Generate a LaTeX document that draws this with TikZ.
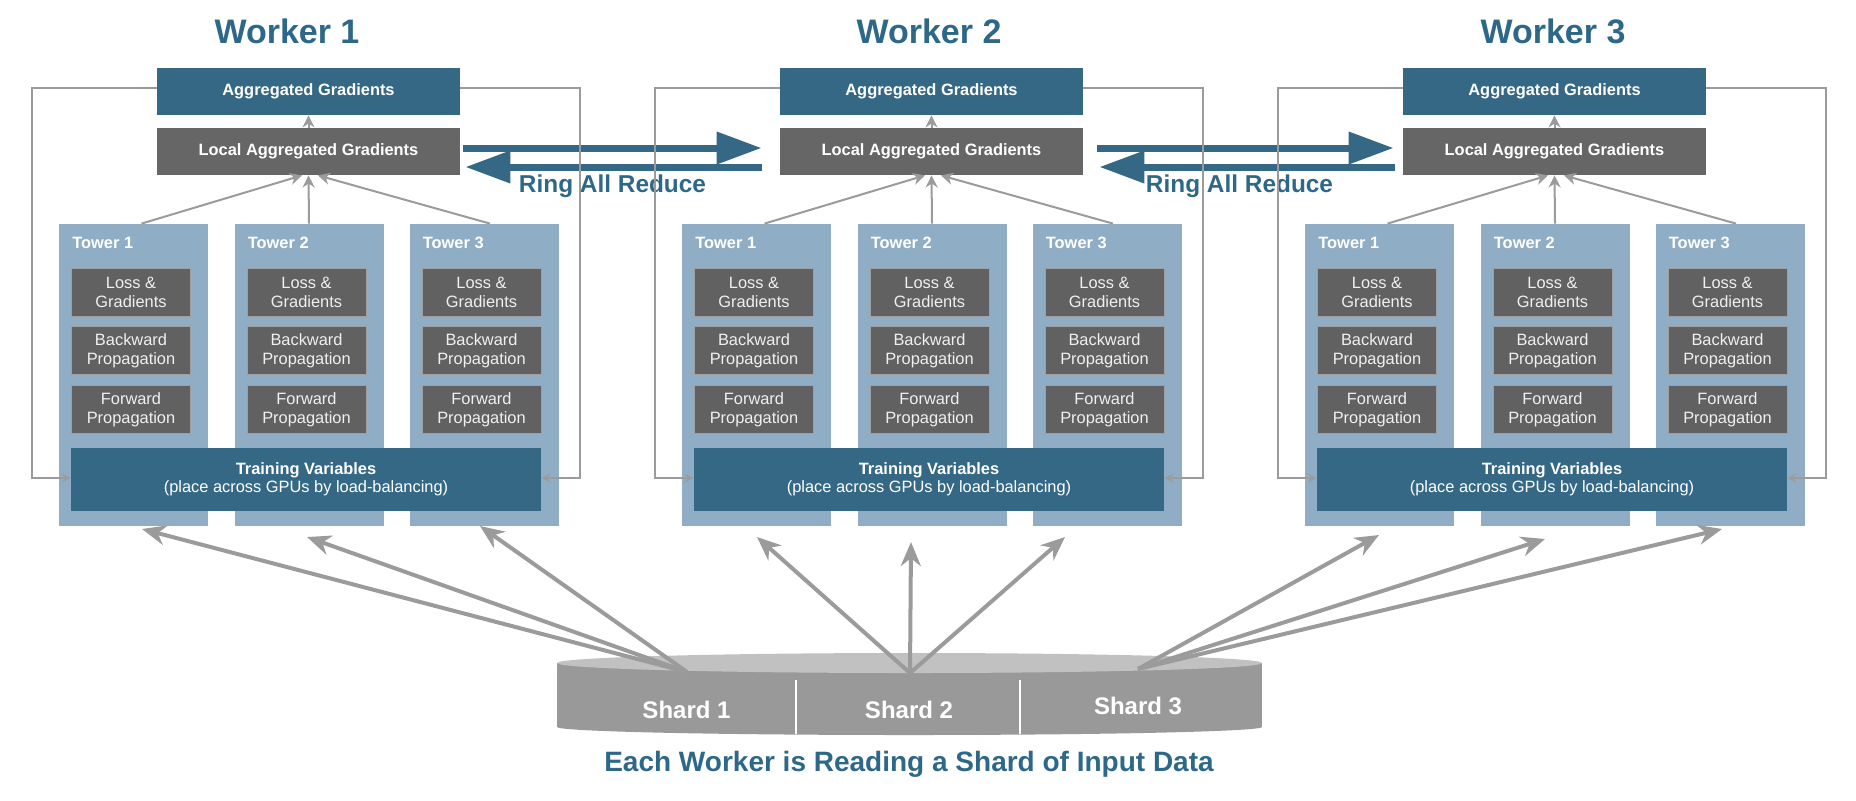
\documentclass[tikz,border=0pt]{standalone}
\usepackage{fontspec}
\setmainfont{Liberation Sans}
\usetikzlibrary{arrows.meta}

\definecolor{tealbox}{HTML}{346885}
\definecolor{titleblue}{HTML}{2E6888}
\definecolor{localgray}{HTML}{666666}
\definecolor{stagegray}{HTML}{616161}
\definecolor{towerblue}{HTML}{8FAEC5}
\definecolor{linegray}{HTML}{9B9B9B}
\definecolor{shardside}{HTML}{999999}
\definecolor{shardtop}{HTML}{C1C1C1}

\begin{document}
\begin{tikzpicture}[x=0.5pt, y=-0.5pt,
    worker/.style ={font=\bfseries\fontsize{17}{20}\selectfont, text=titleblue, anchor=base},
    gradbox/.style ={fill=#1, text=white, font=\bfseries\fontsize{8.2}{9.5}\selectfont,
                     minimum width=151.5pt, minimum height=23.5pt, inner sep=0pt},
    tower/.style ={fill=towerblue, minimum width=74.5pt, minimum height=151pt, inner sep=0pt},
    towerlabel/.style ={font=\bfseries\fontsize{8.2}{9.5}\selectfont, text=white, anchor=base west, inner sep=0pt},
    stage/.style ={fill=stagegray, draw=gray!75, line width=0.4pt, text=white!94!black,
                   font=\fontsize{8.2}{9.5}\selectfont, align=center,
                   minimum width=59.5pt, minimum height=24pt, inner sep=0pt},
    variables/.style ={fill=tealbox, text=white, font=\fontsize{8.2}{9.2}\selectfont, align=center,
                       minimum width=235pt, minimum height=31.5pt, inner sep=0pt},
    gather/.style ={draw=linegray, line width=1pt, -{Stealth[length=6pt,width=6pt]}},
    feedback/.style ={draw=linegray, line width=1pt, -{Stealth[length=5pt,width=5pt,inset=2.5pt]}},
    ring/.style ={draw=tealbox, line width=3.5pt, -{Triangle[length=22.5pt,width=15.5pt]}},
    ringlabel/.style ={font=\bfseries\fontsize{12.2}{14}\selectfont, text=titleblue, anchor=base},
    read/.style ={draw=linegray, line width=2pt, -{Stealth[length=12pt,width=10pt]}},
    shard/.style ={font=\bfseries\fontsize{12}{14}\selectfont, text=white, anchor=base}]

   \useasboundingbox (0,0) rectangle (1856,800);

   % the three workers
   \foreach \w/\tx in {1/287, 2/929, 3/1553} {
     \pgfmathsetmacro\wx{(\w-1)*623}
     \node[worker] (title\w) at (\tx,43) {Worker \w};
     \node[gradbox=tealbox] (agg\w) at (308.5+\wx,91.5) {Aggregated Gradients};
     \node[gradbox=localgray] (loc\w) at (308.5+\wx,151.5) {Local Aggregated Gradients};
     \foreach \t/\cx in {1/133.5, 2/309, 3/484} {
       \node[tower] (tw\w-\t) at (\cx+\wx,375) {};
       \node[towerlabel] (lab\w-\t) at (\cx+\wx-61.5,248) {Tower \t};
       \node[stage] (loss\w-\t) at (\cx+\wx-2.5,292) {Loss \&\\Gradients};
       \node[stage] (back\w-\t) at (\cx+\wx-2.5,350.5) {Backward\\Propagation};
       \node[stage] (fwd\w-\t) at (\cx+\wx-2.5,409.5) {Forward\\Propagation};
     }
     \node[variables] (var\w) at (306+\wx,479.5) {\textbf{Training Variables}\\(place across GPUs by load-balancing)};

     \draw[gather] ([xshift=4pt]tw\w-1.north) -- ([xshift=-3.25pt]loc\w.south);
     \draw[gather] (tw\w-2.north) -- (loc\w.south);
     \draw[gather] ([xshift=3pt]tw\w-3.north) -- ([xshift=4.75pt]loc\w.south);
     \draw[gather] (loc\w) -- (agg\w);
   }

   % ring all reduce
   \draw[ring, shorten <=1.5pt, shorten >=9pt] ([yshift=1.75pt]loc1.east) -- ([yshift=1.75pt]loc2.west);
   \draw[ring, shorten <=9pt, shorten >=2.5pt] ([yshift=-7.75pt]loc2.west) -- ([yshift=-7.75pt]loc1.east);
   \draw[ring, shorten <=7pt, shorten >=4.5pt] ([yshift=1.75pt]loc2.east) -- ([yshift=1.75pt]loc3.west);
   \draw[ring, shorten <=4pt, shorten >=8pt] ([yshift=-7.75pt]loc3.west) -- ([yshift=-7.75pt]loc2.east);
   \node[ringlabel] (ring1) at (612.5,192) {Ring All Reduce};
   \node[ringlabel] (ring2) at (1239.5,192) {Ring All Reduce};

   % variables fed back from the aggregated gradients
   \foreach \w in {1,2,3} {
     \pgfmathsetmacro\wx{(\w-1)*623}
     \coordinate (fbl\w) at (32+\wx,300);
     \coordinate (fbr\w) at (580+\wx,300);
     \draw[feedback] ([yshift=1.75pt]agg\w.west) -| (fbl\w) |- ([yshift=0.75pt]var\w.west);
     \draw[feedback] ([yshift=1.75pt]agg\w.east) -| (fbr\w) |- ([yshift=0.75pt]var\w.east);
   }

   % input data
   \fill[shardside] (557,663) rectangle (1262,727);
   \fill[shardside] (909.5,727) ellipse[x radius=352.5, y radius=8];
   \fill[shardtop] (909.5,663) ellipse[x radius=352.5, y radius=10];
   \draw[white, line width=1pt] (796,680) -- (796,734);
   \draw[white, line width=1pt] (1020,680) -- (1020,734);
   \node[shard] (shard1) at (686.5,718) {Shard 1};
   \node[shard] (shard2) at (909,718) {Shard 2};
   \node[shard] (shard3) at (1138,714) {Shard 3};

   \coordinate (c1) at (687,672);
   \coordinate (c2) at (910,673);
   \coordinate (c3) at (1138,669);
   \foreach \n/\x/\y in {1-1/142/529, 1-2/307/537, 1-3/480/526,
                         2-1/757/537, 2-2/911/542, 2-3/1065/537,
                         3-1/1379/535, 3-2/1545/539, 3-3/1722/529}
     \coordinate (in\n) at (\x,\y);
   \foreach \w in {1,2,3}
     \foreach \t in {1,2,3}
       \draw[read] (c\w) -- (in\w-\t);

   \node[anchor=base, font=\bfseries\fontsize{14}{16}\selectfont, text=titleblue] (caption) at (909,771)
     {Each Worker is Reading a Shard of Input Data};
\end{tikzpicture}
\end{document}
